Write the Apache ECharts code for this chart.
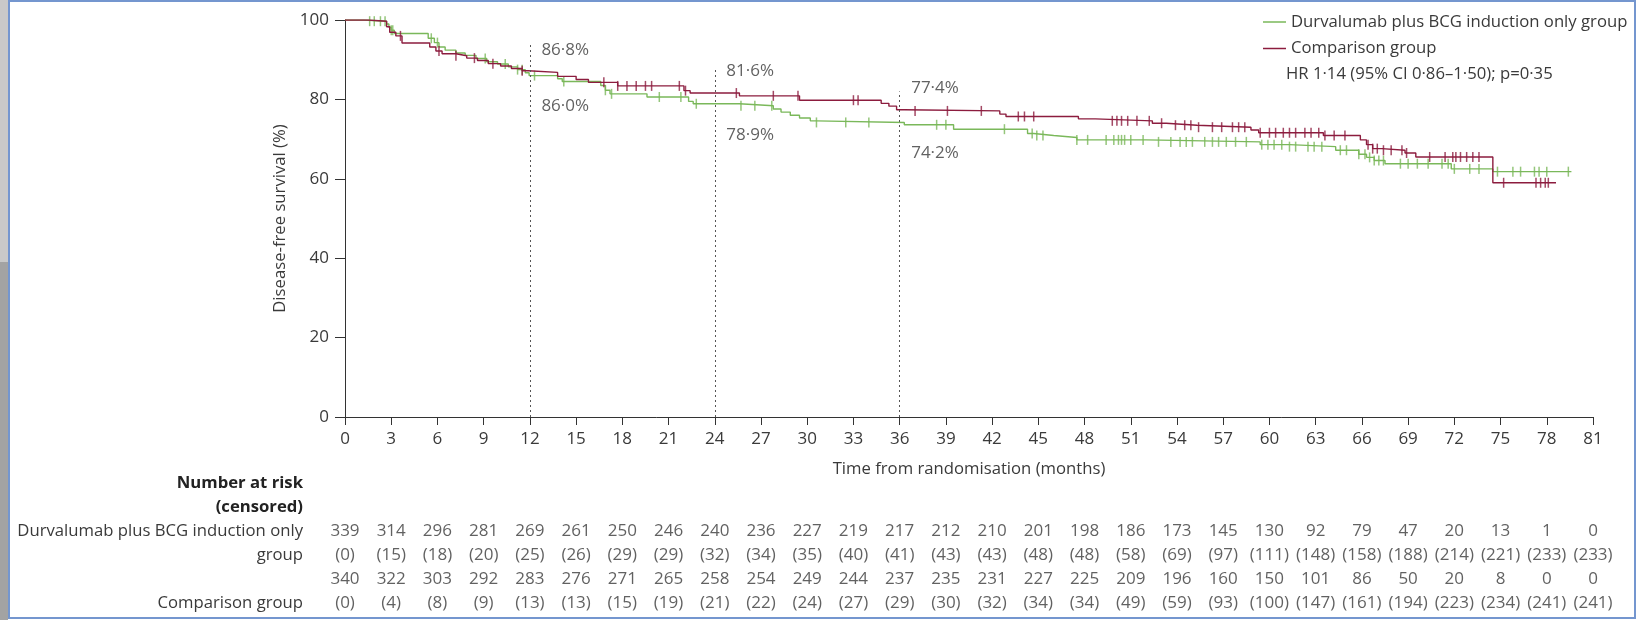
<!DOCTYPE html>
<html><head><meta charset="utf-8">
<script src="https://cdn.jsdelivr.net/npm/echarts@6/dist/echarts.min.js"></script>
<style>html,body{margin:0;padding:0;background:#fff}#c{width:1638px;height:620px}</style>
</head><body><div id="c"></div>
<script>
// ---------- data ----------
const durvaName = 'Durvalumab plus BCG induction only group';
const compName = 'Comparison group';
const durvaSteps = [[0,100],[1.2,99.7],[2.7,99.0],[2.85,98.2],[3.0,97.4],[3.2,96.6],[5.4,95.4],[5.8,94.3],[6.1,93.2],[6.5,92.4],[7.2,91.7],[7.8,91.1],[8.5,90.3],[9.2,89.5],[9.9,88.9],[10.6,88.2],[11.2,87.5],[11.7,86.7],[11.95,86.0],[13.8,85.2],[14.1,84.5],[16.6,83.5],[16.9,82.3],[17.2,81.4],[19.6,80.6],[22.3,79.5],[22.6,78.9],[25.6,78.4],[27.8,77.6],[28.3,76.8],[28.9,76.0],[29.5,75.3],[30.2,74.6],[30.6,74.2],[36.3,73.6],[39.5,72.5],[44.3,71.4],[44.7,70.9],[46.0,70.4],[47.5,69.8],[52.0,69.3],[59.4,68.6],[61.3,68.1],[64.3,67.2],[65.8,66.2],[66.3,65.4],[66.8,64.6],[67.5,63.8],[71.8,62.5],[74.5,61.8],[79.6,61.8]];
const compSteps = [[0,100],[1.5,99.7],[2.7,98.3],[2.9,96.9],[3.3,96.0],[3.7,94.2],[5.5,93.2],[5.9,92.2],[6.3,91.5],[7.2,91.0],[7.9,90.4],[8.6,89.8],[9.3,89.0],[10.1,88.4],[10.8,87.8],[11.5,87.2],[11.9,86.8],[13.8,85.8],[15.0,85.0],[15.8,84.3],[17.7,83.4],[22.0,82.2],[22.4,81.6],[25.6,80.9],[29.5,79.8],[34.8,79.0],[35.3,78.3],[35.8,77.4],[36.3,77.1],[42.5,76.3],[42.9,75.7],[47.6,75.1],[48.7,74.6],[52.4,74.0],[53.3,73.5],[55.3,73.0],[58.8,72.3],[59.3,71.6],[63.5,70.9],[65.9,69.8],[66.3,68.6],[66.7,67.6],[67.3,67.2],[68.8,66.5],[69.5,65.5],[74.5,59.0],[78.6,59.0]];
const durvaCensorTimes = [1.6,1.9,2.3,2.6,3.0,3.1,5.6,6.0,9.1,10.4,11.2,11.5,12.3,14.2,16.9,17.3,20.4,21.8,22.8,25.7,26.6,27.7,30.6,32.5,34.0,38.4,39.0,42.8,44.6,44.9,45.3,47.5,48.2,49.4,49.9,50.2,50.4,50.6,51.0,51.8,52.8,53.6,54.2,54.6,55.0,55.8,56.3,56.7,57.2,57.8,58.5,59.5,59.9,60.3,60.8,61.3,61.7,62.5,62.9,63.4,64.6,65.0,65.8,66.2,66.5,66.8,67.1,67.4,68.5,69.0,69.6,70.3,71.2,71.6,72.0,73.0,73.6,74.8,75.8,76.3,77.2,77.5,78.0,79.4];
const compCensorTimes = [3.6,6.1,7.2,8.4,9.6,11.5,16.8,17.7,18.3,18.9,19.5,19.9,21.7,22.1,25.4,27.8,29.4,33.0,33.3,37.0,39.1,41.3,43.7,44.1,44.7,49.8,50.1,50.4,50.8,51.4,52.2,53.0,53.9,54.5,54.9,55.4,56.3,56.9,57.6,58.0,58.4,59.4,60.0,60.4,60.9,61.3,61.7,62.3,62.7,63.2,63.6,64.2,64.9,66.4,66.7,67.0,67.4,67.9,68.6,68.9,70.4,71.4,71.9,72.1,72.4,72.8,73.2,73.6,75.2,77.3,77.6,77.9,78.1];
const estTimes = [12, 24, 36];
const estDurva = [86.0, 78.9, 74.2];
const estComp = [86.8, 81.6, 77.4];
const guideTops = [94, 88, 82];
const riskTimes = [0,3,6,9,12,15,18,21,24,27,30,33,36,39,42,45,48,51,54,57,60,63,66,69,72,75,78,81];
const durvaAtRisk = [339,314,296,281,269,261,250,246,240,236,227,219,217,212,210,201,198,186,173,145,130,92,79,47,20,13,1,0];
const durvaCensored = [0,15,18,20,25,26,29,29,32,34,35,40,41,43,43,48,48,58,69,97,111,148,158,188,214,221,233,233];
const compAtRisk = [340,322,303,292,283,276,271,265,258,254,249,244,237,235,231,227,225,209,196,160,150,101,86,50,20,8,0,0];
const compCensored = [0,4,8,9,13,13,15,19,21,22,24,27,29,30,32,34,34,49,59,93,100,147,161,194,223,234,241,241];
const riskRows = ['Number at risk', '(censored)', 'Durvalumab plus BCG induction only', 'group', '\u00a0', 'Comparison group'];
const hrText = 'HR 1\u00b714 (95% CI 0\u00b786\u20131\u00b750); p=0\u00b735';

// ---------- helpers ----------
const FONT = 'Open Sans';
const FS = 16.7;   // words
const FN = 17;     // numbers
const TXT = '#3a3a3a';
const GREEN = '#7ab85a';
const RED = '#8c1c3e';
function survAt(steps, t) { let s = steps[0][1]; for (const p of steps) { if (p[0] <= t) s = p[1]; else break; } return s; }
const fmtPct = v => v.toFixed(1).replace('.', '\u00b7') + '%';

const chart = echarts.init(document.getElementById('c'), null, {renderer: 'canvas'});

function riskSeries(values, row, fmt) {
  return {
    type: 'scatter', xAxisIndex: 1, yAxisIndex: 1, silent: true,
    symbolSize: 1, itemStyle: {color: 'rgba(0,0,0,0)'},
    data: riskTimes.map((t, i) => [t, row, values[i]]),
    label: {show: true, position: 'inside', color: TXT, fontFamily: FONT, fontSize: FN,
      formatter: p => fmt(p.data[2])}
  };
}

const option = {
  animation: false,
  backgroundColor: '#fff',
  textStyle: {fontFamily: FONT},
  grid: [
    {left: 345, width: 1248, top: 20, height: 397},
    {left: 345, width: 1248, top: 471, height: 144}
  ],
  legend: {
    data: [durvaName, compName], orient: 'vertical', left: 1258, top: 8,
    icon: 'rect', itemWidth: 23, itemHeight: 1.5, itemGap: 8.5, itemTextGap: 5,
    textStyle: {color: TXT, fontFamily: FONT, fontSize: FS, lineHeight: 18},
    selectedMode: false
  },
  xAxis: [
    {gridIndex: 0, type: 'value', min: 0, max: 81, interval: 3,
      axisLine: {lineStyle: {color: '#333', width: 1}},
      axisTick: {length: 8, lineStyle: {color: '#333'}},
      axisLabel: {color: TXT, fontFamily: FONT, fontSize: FN, margin: 14},
      splitLine: {show: false},
      name: 'Time from randomisation (months)', nameLocation: 'middle', nameGap: 44,
      nameTextStyle: {color: TXT, fontFamily: FONT, fontSize: FS}},
    {gridIndex: 1, type: 'value', min: 0, max: 81, show: false}
  ],
  yAxis: [
    {gridIndex: 0, type: 'value', min: 0, max: 100, interval: 20,
      axisLine: {show: true, lineStyle: {color: '#333', width: 1}},
      axisTick: {show: true, length: 10, lineStyle: {color: '#333'}},
      axisLabel: {color: TXT, fontFamily: FONT, fontSize: FN, margin: 16},
      splitLine: {show: false},
      name: 'Disease-free survival (%)', nameLocation: 'middle', nameGap: 53, nameRotate: 90,
      nameTextStyle: {color: TXT, fontFamily: FONT, fontSize: FS}},
    {gridIndex: 1, type: 'category', inverse: true, data: riskRows,
      axisLine: {show: false}, axisTick: {show: false}, splitLine: {show: false},
      axisLabel: {color: TXT, fontFamily: FONT, fontSize: FS, margin: 42,
        formatter: (v, i) => i < 2 ? '{b|' + v + '}' : v,
        rich: {b: {fontWeight: 'bold', color: '#222', fontFamily: FONT, fontSize: FS}}}}
  ],
  series: [
    {name: durvaName, type: 'line', step: 'end', data: durvaSteps, symbol: 'none',
      lineStyle: {color: GREEN, width: 1.4}, itemStyle: {color: GREEN}, z: 3,
      markLine: {silent: true, symbol: 'none', label: {show: false},
        lineStyle: {color: '#555', type: [2, 3], width: 1},
        data: estTimes.map((t, i) => [{coord: [t, 0]}, {coord: [t, guideTops[i]]}])}},
    {name: compName, type: 'line', step: 'end', data: compSteps, symbol: 'none',
      lineStyle: {color: RED, width: 1.4}, itemStyle: {color: RED}, z: 4},
    {type: 'scatter', silent: true, symbol: 'rect', symbolSize: [1.5, 10], itemStyle: {color: GREEN}, z: 3,
      data: durvaCensorTimes.map(t => [t, survAt(durvaSteps, t)])},
    {type: 'scatter', silent: true, symbol: 'rect', symbolSize: [1.5, 10], itemStyle: {color: RED}, z: 4,
      data: compCensorTimes.map(t => [t, survAt(compSteps, t)])},
    {type: 'scatter', silent: true, symbolSize: 1, itemStyle: {color: 'rgba(0,0,0,0)'},
      data: estTimes.map((t, i) => [t, estComp[i]]),
      label: {show: true, position: 'right', distance: 0, offset: [11, -22], color: TXT, fontFamily: FONT, fontSize: FN,
        formatter: p => fmtPct(p.data[1])}},
    {type: 'scatter', silent: true, symbolSize: 1, itemStyle: {color: 'rgba(0,0,0,0)'},
      data: estTimes.map((t, i) => [t, estDurva[i]]),
      label: {show: true, position: 'right', distance: 0, offset: [11, 31], color: TXT, fontFamily: FONT, fontSize: FN,
        formatter: p => fmtPct(p.data[1])}},
    riskSeries(durvaAtRisk, riskRows[2], v => String(v)),
    riskSeries(durvaCensored, riskRows[3], v => '(' + v + ')'),
    riskSeries(compAtRisk, riskRows[4], v => String(v)),
    riskSeries(compCensored, riskRows[5], v => '(' + v + ')')
  ],
  graphic: [
    {type: 'rect', shape: {x: 0, y: 0, width: 8, height: 262}, style: {fill: '#c9c9c9'}, silent: true},
    {type: 'rect', shape: {x: 0, y: 262, width: 8, height: 358}, style: {fill: '#a3a3a3'}, silent: true},
    {type: 'rect', shape: {x: 9, y: 1, width: 1626, height: 617}, style: {fill: 'none', stroke: '#7496cf', lineWidth: 2}, silent: true},
    {type: 'text', left: 1286, top: 66, style: {text: hrText, fill: TXT, font: FS + 'px "' + FONT + '"'}, silent: true}
  ]
};
chart.setOption(option);
</script>
</body></html>
